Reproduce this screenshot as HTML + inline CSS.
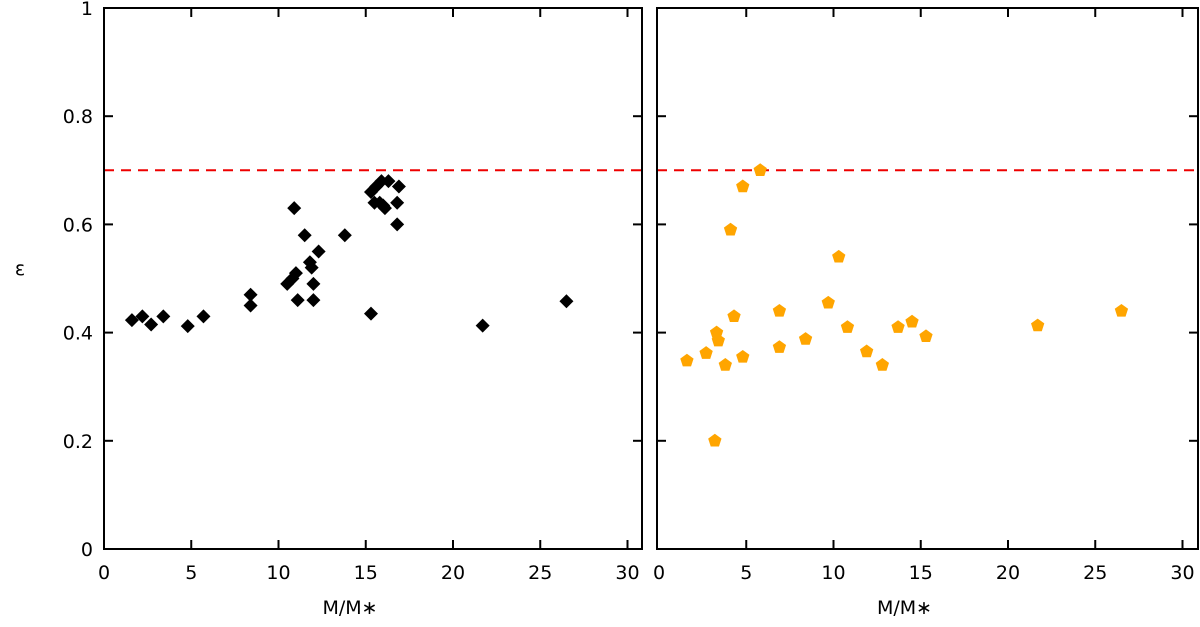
<!DOCTYPE html>
<html><head><meta charset="utf-8"><style>
body{margin:0;background:#fff}
svg{display:block;font-family:"DejaVu Sans","Liberation Sans",sans-serif}
</style></head><body>
<svg id="chart" width="1200" height="627" viewBox="0 0 1200 627"></svg>
<script>
const leftX=[1.6,2.2,2.7,3.4,4.8,5.7,8.4,8.4,10.5,10.8,10.9,11,11.1,11.5,11.8,11.9,12,12,12.3,13.8,15.3,15.3,15.5,15.6,15.8,15.9,16,16.1,16.3,16.8,16.8,16.9,21.7,26.5];
const leftY=[0.423,0.43,0.415,0.43,0.412,0.43,0.47,0.45,0.49,0.5,0.63,0.51,0.46,0.58,0.53,0.52,0.49,0.46,0.55,0.58,0.435,0.66,0.64,0.67,0.64,0.68,0.635,0.63,0.68,0.6,0.64,0.67,0.413,0.458];
const rightX=[1.6,2.7,3.2,3.3,3.4,3.8,4.1,4.3,4.8,4.8,5.8,6.9,6.9,8.4,9.7,10.3,10.8,11.9,12.8,13.7,14.5,15.3,21.7,26.5];
const rightY=[0.348,0.362,0.2,0.4,0.385,0.34,0.59,0.43,0.355,0.67,0.7,0.44,0.373,0.388,0.455,0.54,0.41,0.365,0.34,0.41,0.42,0.393,0.413,0.44];
const xTicks=[0,5,10,15,20,25,30];
const yTicks=[0,0.2,0.4,0.6,0.8,1];
const yTickLabels=["0","0.2","0.4","0.6","0.8","1"];
const refLine=0.7;
const NS="http://www.w3.org/2000/svg";
const svg=document.getElementById('chart');
function mk(t,a,p){const e=document.createElementNS(NS,t);for(const k in a)e.setAttribute(k,a[k]);(p||svg).appendChild(e);return e;}
const Y0=549,Y1=8,scale=17.45;
const yS=v=>Y0-(Y0-Y1)*v;
function panel(name,left,right,x0,xs,ys,marker,showY){
  const g=mk('g',{});
  
  
  const xS=v=>x0+v*scale;
  // ref line
  const rl=mk('line',{x1:left,x2:right,y1:yS(refLine),y2:yS(refLine),stroke:'#e00','stroke-width':2,'stroke-dasharray':'10,7'},g);
  
  
  // points
  xs.forEach((x,i)=>{
    const cx=xS(x),cy=yS(ys[i]);let p;
    if(marker==='diamond'){
      p=mk('path',{d:`M${cx} ${cy-7}L${cx+7} ${cy}L${cx} ${cy+7}L${cx-7} ${cy}Z`,fill:'#000'},g);
    }else{
      let d='';for(let k=0;k<5;k++){const a=-Math.PI/2+k*2*Math.PI/5;d+=(k?'L':'M')+(cx+7*Math.cos(a)).toFixed(2)+' '+(cy+7*Math.sin(a)).toFixed(2);}
      p=mk('path',{d:d+'Z',fill:'#ffa500'},g);
    }
    
    
  });
  // frame
  const fr=mk('rect',{x:left,y:Y1,width:right-left,height:Y0-Y1,fill:'none',stroke:'#000','stroke-width':2},g);
  
  
  xTicks.forEach(t=>{
    const x=xS(t);
    if(t>0){mk('line',{x1:x,x2:x,y1:Y0,y2:Y0-9,stroke:'#000','stroke-width':2},g);
    mk('line',{x1:x,x2:x,y1:Y1,y2:Y1+9,stroke:'#000','stroke-width':2},g);}
    const tx=mk('text',{x:x,y:Y0+30,'font-size':19,'text-anchor':'middle'},g);
    tx.textContent=t;
    
    
  });
  yTicks.forEach((t,i)=>{
    const y=yS(t);
    if(t>0&&t<1){mk('line',{x1:left,x2:left+9,y1:y,y2:y,stroke:'#000','stroke-width':2},g);
    mk('line',{x1:right,x2:right-9,y1:y,y2:y,stroke:'#000','stroke-width':2},g);}
    if(showY){const tx=mk('text',{x:left-11,y:y+7,'font-size':19,'text-anchor':'end'},g);
    tx.textContent=yTickLabels[i];
    
    }
  });
  const xt=mk('text',{x:(left+right)/2-23,y:614,'font-size':19,'text-anchor':'middle'},g);
  xt.textContent='M/M∗';
  
  
}
panel('left-panel',104,642,104,leftX,leftY,'diamond',true);
panel('right-panel',657,1198,659,rightX,rightY,'pentagon',false);
const yt=mk('text',{x:20,y:275,'font-size':19,'text-anchor':'middle'});
yt.textContent='ε';


</script>
</body></html>
